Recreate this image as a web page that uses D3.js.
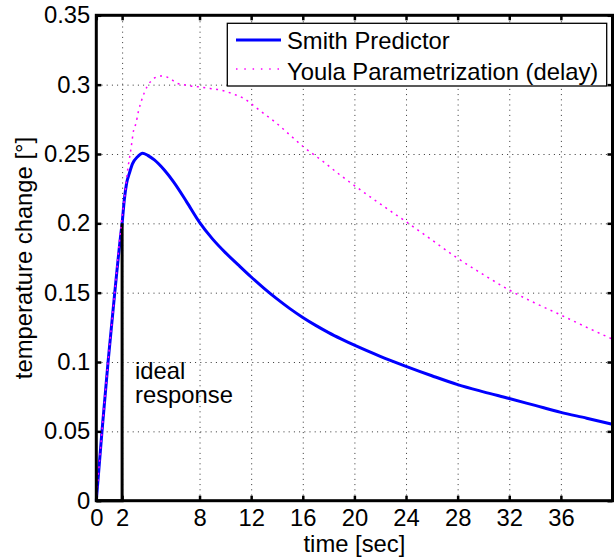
<!DOCTYPE html>
<html>
<head>
<meta charset="utf-8">
<script src="https://cdn.jsdelivr.net/npm/d3@7"></script>
<style>
  body { margin: 0; background: #fff; }
  svg { display: block; font-family: "Liberation Sans", Arial, sans-serif; }
</style>
</head>
<body>
<svg id="chart" width="615" height="558"></svg>
<script>
// Data
const smithTime = [0, 0.44, 0.91, 1.43, 1.91, 2.0, 2.17, 2.35, 2.56, 2.81, 3.2, 3.59, 3.98, 4.5, 5.27, 6, 7, 8, 9, 10, 11, 12, 13, 14, 15, 16, 17, 18, 19, 20, 22, 24, 26, 28, 30, 32, 34, 36, 38, 40];
const smithValues = [0, 0.05, 0.1, 0.15, 0.193, 0.2, 0.217, 0.229, 0.236, 0.243, 0.248, 0.2505, 0.249, 0.2457, 0.2384, 0.2297, 0.2155, 0.2007, 0.1888, 0.1789, 0.17, 0.1613, 0.1531, 0.1455, 0.1385, 0.1321, 0.1264, 0.1212, 0.1165, 0.1121, 0.1041, 0.0969, 0.0901, 0.0837, 0.0785, 0.0737, 0.0687, 0.0637, 0.0595, 0.0551];

const youlaTime = [0, 0.44, 0.91, 1.43, 1.91, 2.17, 2.43, 2.69, 2.89, 3.07, 3.26, 3.54, 3.72, 3.93, 4.19, 4.55, 5.01, 5.4, 5.79, 6.25, 6.69, 7.21, 7.85, 8.81, 9.85, 10.62, 11.53, 12.0, 12.69, 13.98, 15.0, 16.05, 17.6, 18.9, 20.05, 22, 24, 26, 28, 30, 32, 34, 36, 38, 40];
const youlaValues = [0, 0.05, 0.1, 0.15, 0.1976, 0.217, 0.2384, 0.254, 0.267, 0.272, 0.2805, 0.2896, 0.2942, 0.2985, 0.302, 0.305, 0.3062, 0.3057, 0.304, 0.301, 0.3002, 0.2992, 0.2985, 0.2973, 0.2956, 0.2932, 0.2895, 0.2862, 0.2812, 0.2721, 0.2637, 0.2552, 0.2444, 0.2348, 0.2269, 0.214, 0.2012, 0.188, 0.1748, 0.163, 0.1519, 0.1425, 0.1339, 0.125, 0.1165];

const idealTime = [0, 2, 2];
const idealValues = [0, 0, 0.2];

const xTicks = [0, 2, 8, 12, 16, 20, 24, 28, 32, 36];
const yTicks = [0, 0.05, 0.1, 0.15, 0.2, 0.25, 0.3, 0.35];
const yTickLabels = ["0", "0.05", "0.1", "0.15", "0.2", "0.25", "0.3", "0.35"];
const seriesNames = ["Smith Predictor", "Youla Parametrization (delay)"];

const fontSize = 23.8;
const plotLeft = 96.3, plotRight = 612.5, plotTop = 15.3, plotBottom = 500.7;

const svg = d3.select("#chart");

const x = d3.scaleLinear().domain([0, 40]).range([plotLeft, plotRight]);
const y = d3.scaleLinear().domain([0, 0.35]).range([plotBottom, plotTop]);

// Dotted grid
const grid = svg.append("g");
grid.append("g")
    .attr("transform", `translate(0,${plotBottom})`)
    .call(d3.axisBottom(x).tickValues(xTicks.filter(d => d > 0)).tickSize(-(plotBottom - plotTop)).tickFormat(""))
    .call(g => g.select(".domain").remove());
grid.append("g")
    .attr("transform", `translate(${plotLeft},0)`)
    .call(d3.axisLeft(y).tickValues(yTicks.filter(d => d > 0 && d < 0.35)).tickSize(-(plotRight - plotLeft)).tickFormat(""))
    .call(g => g.select(".domain").remove());
grid.selectAll("line")
    .attr("stroke", "#333")
    .attr("stroke-width", 1)
    .attr("stroke-dasharray", "1,4.2");

// Curves
const line = d3.line()
    .x(d => x(d[0]))
    .y(d => y(d[1]));

const smith = smithTime.map((t, i) => [t, smithValues[i]]);
const youla = youlaTime.map((t, i) => [t, youlaValues[i]]);
const ideal = idealTime.map((t, i) => [t, idealValues[i]]);

svg.append("path")
    .datum(smith)
    .attr("fill", "none")
    .attr("stroke", "#0000ff")
    .attr("stroke-width", 3)
    .attr("d", line.curve(d3.curveMonotoneX));

svg.append("path")
    .datum(ideal)
    .attr("fill", "none")
    .attr("stroke", "#000")
    .attr("stroke-width", 3)
    .attr("d", line.curve(d3.curveLinear));

svg.append("path")
    .datum(youla)
    .attr("fill", "none")
    .attr("stroke", "#ff00ff")
    .attr("stroke-width", 1.5)
    .attr("stroke-dasharray", "2,4.5")
    .attr("d", line.curve(d3.curveMonotoneX));

// Axes with inward ticks
const axisStyle = g => {
    g.select(".domain").remove();
    g.selectAll(".tick line").attr("stroke", "#000").attr("stroke-width", 2.5);
    g.selectAll("text").attr("fill", "#000").style("font-size", fontSize + "px");
};

svg.append("g")
    .attr("transform", `translate(0,${plotBottom})`)
    .call(d3.axisBottom(x).tickValues(xTicks).tickSize(-5).tickPadding(8))
    .call(axisStyle);

svg.append("g")
    .attr("transform", `translate(0,${plotTop})`)
    .call(d3.axisTop(x).tickValues(xTicks).tickSize(-5).tickFormat(""))
    .call(axisStyle);

svg.append("g")
    .attr("transform", `translate(${plotLeft},0)`)
    .call(d3.axisLeft(y).tickValues(yTicks).tickSize(-5).tickPadding(6)
        .tickFormat((d, i) => yTickLabels[i]))
    .call(axisStyle);

svg.append("g")
    .attr("transform", `translate(${plotRight},0)`)
    .call(d3.axisRight(y).tickValues(yTicks).tickSize(-5).tickFormat(""))
    .call(axisStyle);

// Box
svg.append("rect")
    .attr("x", plotLeft)
    .attr("y", plotTop)
    .attr("width", plotRight - plotLeft)
    .attr("height", plotBottom - plotTop)
    .attr("fill", "none")
    .attr("stroke", "#000")
    .attr("stroke-width", 3);

// Axis labels
svg.append("text")
    .attr("x", (plotLeft + plotRight) / 2)
    .attr("y", 551.5)
    .attr("text-anchor", "middle")
    .style("font-size", fontSize + "px")
    .text("time [sec]");

svg.append("text")
    .attr("transform", `translate(32,${(plotTop + plotBottom) / 2}) rotate(-90)`)
    .attr("text-anchor", "middle")
    .style("font-size", fontSize + "px")
    .text("temperature change [°]");

// Annotation
const note = svg.append("text")
    .attr("x", 135)
    .attr("y", 378.5)
    .style("font-size", fontSize + "px");
note.append("tspan").attr("x", 135).text("ideal");
note.append("tspan").attr("x", 135).attr("dy", 24.5).text("response");

// Legend
const legend = svg.append("g");
legend.append("rect")
    .attr("x", 227.3)
    .attr("y", 23.3)
    .attr("width", 379.4)
    .attr("height", 62.7)
    .attr("fill", "#fff")
    .attr("stroke", "#000")
    .attr("stroke-width", 1.3);

legend.append("line")
    .attr("x1", 236).attr("x2", 281)
    .attr("y1", 40).attr("y2", 40)
    .attr("stroke", "#0000ff")
    .attr("stroke-width", 3);

legend.append("line")
    .attr("x1", 236).attr("x2", 281)
    .attr("y1", 69).attr("y2", 69)
    .attr("stroke", "#ff00ff")
    .attr("stroke-width", 1.5)
    .attr("stroke-dasharray", "1.5,6.8");

legend.selectAll("text.entry")
    .data(seriesNames)
    .join("text")
    .attr("class", "entry")
    .attr("x", 287)
    .attr("y", (d, i) => 49 + i * 30.5)
    .style("font-size", fontSize + "px")
    .text(d => d);
</script>
</body>
</html>
